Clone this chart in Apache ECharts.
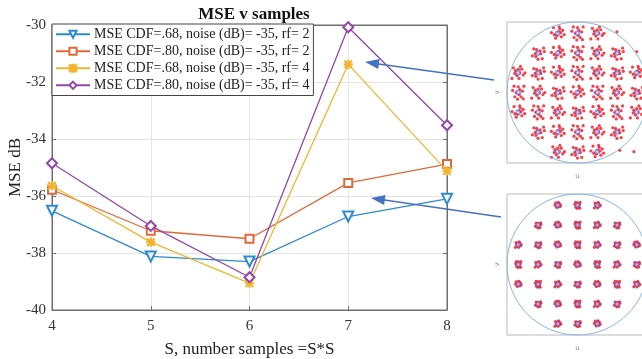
<!DOCTYPE html>
<html><head><meta charset="utf-8">
<script src="https://cdn.jsdelivr.net/npm/echarts@6/dist/echarts.min.js"></script>
<style>html,body{margin:0;padding:0;background:#fff}#c{width:642px;height:359px}</style>
</head><body><div id="c"></div><script>
// Number of samples per side S (S*S sample points)
const sValues = [4, 5, 6, 7, 8];

// MSE in dB for each configuration
const mseCdf68Rf2 = [-36.52, -38.12, -38.30, -36.72, -36.10];
const mseCdf80Rf2 = [-35.78, -37.22, -37.50, -35.54, -34.88];
const mseCdf68Rf4 = [-35.64, -37.62, -39.06, -31.38, -35.12];
const mseCdf80Rf4 = [-34.85, -37.05, -38.85, -30.08, -33.52];

const seriesNames = [
  'MSE CDF=.68, noise (dB)= -35, rf= 2',
  'MSE CDF=.80, noise (dB)= -35, rf= 2',
  'MSE CDF=.68, noise (dB)= -35, rf= 4',
  'MSE CDF=.80, noise (dB)= -35, rf= 4'
];
const seriesColors = ['#2D8BD0', '#E0683A', '#F1B532', '#9446A9'];

const yMin = -40, yMax = -30, yStep = 2;
const xMin = 4, xMax = 8, xStep = 1;

// Sample layout inside the unit disk: grid columns present in each row (top row first)
const layoutRows = [3, 2, 1, 0, -1, -2, -3];
const layoutCols = [
  [-1, 0, 1],
  [-2, -1, 0, 1, 2],
  [-3, -2, -1, 0, 1, 2, 3],
  [-3, -2, -1, 0, 1, 2, 3],
  [-3, -2, -1, 0, 1, 2, 3],
  [-2, -1, 0, 1, 2],
  [-1, 0, 1]
];
const gridPitch = 0.28;

// Estimated sample scatter around each grid node (unit offsets)
const scatterA = [[-0.6,0.8],[0.2,0.9],[0.7,0.4],[-0.9,0.1],[0.1,0.2],[0.5,-0.5],[-0.3,-0.7],[0.9,-0.2],[-0.5,-0.2],[0.3,0.6],[-0.1,-0.3],[0.4,0.1]];
const scatterB = [[0.8,0.7],[-0.2,0.5],[-0.8,-0.4],[0.4,-0.1],[0.0,-0.9],[-0.6,0.6],[0.6,-0.8],[-0.1,0.1],[0.9,0.2],[-0.4,-0.1],[0.3,0.3],[-0.3,-0.5]];
const scatterC = [[-0.9,-0.8],[-0.4,0.3],[0.3,0.9],[0.7,-0.3],[-0.2,-0.4],[0.5,0.5],[0.1,-0.8],[-0.7,0.7],[0.95,0.0],[0.2,0.0],[-0.5,-0.1],[0.0,0.5]];
const scatterD = [[0.0,0.8],[0.6,0.2],[-0.5,-0.6],[-0.8,0.3],[0.4,-0.6],[0.8,0.9],[-0.3,0.0],[0.2,0.4],[-0.1,-0.95],[0.7,-0.9],[-0.6,0.9],[0.1,-0.3]];
const scatterSets = [scatterA, scatterB, scatterC, scatterD];
const spreadRf4 = 0.1;    // wide clusters (upper map)
const spreadRf2 = 0.045;  // tight clusters (lower map)
// isolated stray samples in the upper map
const strayRf4 = [[0.56, 0.86], [0.84, 0.58], [0.60, -0.82], [0.80, -0.84]];

function gridNodes() {
  const out = [];
  layoutRows.forEach((r, i) => layoutCols[i].forEach(c => out.push([c * gridPitch, r * gridPitch])));
  return out;
}
function samplePoints(spread, extra) {
  const out = [];
  layoutRows.forEach((r, i) => layoutCols[i].forEach((c, j) => {
    const set = scatterSets[(i + j * 3) % scatterSets.length];
    set.forEach(o => out.push([c * gridPitch + o[0] * spread, r * gridPitch + o[1] * spread]));
  }));
  return out.concat(extra);
}

const serif = 'Liberation Serif';
const lineData = [mseCdf68Rf2, mseCdf80Rf2, mseCdf68Rf4, mseCdf80Rf4];
const symbols = ['emptyTriangle', 'emptyRect', 'path://M4.4,0H5.6V10H4.4Z M0,4.4H10V5.6H0Z M1.2,0.4L9.6,8.8L8.8,9.6L0.4,1.2Z M8.8,0.4L9.6,1.2L1.2,9.6L0.4,8.8Z', 'emptyDiamond'];
const symbolSizes = [10, 8, 8, 10];
const symbolRot = [180, 0, 0, 0];

const lineSeries = lineData.map((vals, k) => ({
  name: seriesNames[k],
  type: 'line',
  xAxisIndex: 0, yAxisIndex: 0,
  data: sValues.map((s, i) => [s, vals[i]]),
  symbol: symbols[k],
  symbolSize: symbolSizes[k],
  symbolRotate: symbolRot[k],
  showAllSymbol: true,
  color: seriesColors[k],
  lineStyle: { width: 1.3, color: seriesColors[k] },
  itemStyle: { color: seriesColors[k], borderColor: seriesColors[k], borderWidth: 1.2 },
  z: 3 + k
}));

function insetGrid(top) {
  return { left: 507, top: top, width: 141, height: 141, show: true, borderColor: '#b9b9b9', borderWidth: 1,
    backgroundColor: '#fff', outerBoundsMode: 'none', containLabel: false };
}
function insetAxis(gridIndex, name, isX) {
  return {
    type: 'value', gridIndex, min: -1, max: 1,
    name, nameLocation: 'middle', nameGap: isX ? 10 : 6, nameRotate: isX ? 0 : 90,
    nameTextStyle: { fontSize: 7, color: '#888', fontFamily: 'DejaVu Sans' },
    axisLine: { show: false }, axisTick: { show: false }, axisLabel: { show: false }, splitLine: { show: false }
  };
}

const insetSeries = [];
[[1, spreadRf4, strayRf4], [2, spreadRf2, []]].forEach(([g, spread, extra]) => {
  insetSeries.push({
    type: 'scatter', xAxisIndex: g + 1, yAxisIndex: g + 1,
    data: samplePoints(spread, extra), symbol: 'circle', symbolSize: 3.2,
    itemStyle: { color: '#F41E25', opacity: 0.85 }, silent: true, z: 2
  });
  insetSeries.push({
    type: 'scatter', xAxisIndex: g + 1, yAxisIndex: g + 1,
    data: gridNodes(), symbol: 'emptyCircle', symbolSize: 4,
    itemStyle: { color: '#6a5fd0', borderColor: '#6a5fd0', borderWidth: 0.8, opacity: 0.6 }, silent: true, z: 3
  });
});

const chart = echarts.init(document.getElementById('c'), null, { renderer: 'canvas' });
chart.setOption({
  animation: false,
  backgroundColor: '#fff',
  title: {
    text: 'MSE v samples', left: 249, top: 1, textAlign: 'center',
    textStyle: { fontFamily: serif, fontSize: 17, fontWeight: 'bold', color: '#111' }
  },
  legend: {
    data: seriesNames, orient: 'vertical', left: 52, top: 24,
    backgroundColor: '#fff', borderColor: '#444', borderWidth: 1,
    padding: [3, 4, 3, 3], itemGap: 2.5, itemWidth: 34, itemHeight: 9,
    textStyle: { fontFamily: serif, fontSize: 14, color: '#222', lineHeight: 14.5, padding: [0, 0, 0, -1] },
    z: 10
  },
  grid: [
    { left: 52, top: 25, right: 195, bottom: 49, show: true, borderColor: '#6e6e6e', borderWidth: 1,
      outerBoundsMode: 'none', containLabel: false },
    insetGrid(22),
    insetGrid(194)
  ],
  xAxis: [
    {
      type: 'value', gridIndex: 0, min: xMin, max: xMax, interval: xStep,
      name: 'S, number samples =S*S', nameLocation: 'middle', nameGap: 31, nameMoveOverlap: false,
      nameTextStyle: { fontFamily: serif, fontSize: 17, color: '#222' },
      axisLine: { lineStyle: { color: '#6e6e6e' } },
      axisTick: { inside: true, length: 4, lineStyle: { color: '#6e6e6e' } },
      axisLabel: { fontFamily: serif, fontSize: 15, color: '#333', margin: 9 },
      splitLine: { show: true, lineStyle: { color: '#e4e4e4', width: 1 } }
    },
    {
      type: 'value', gridIndex: 0, position: 'top', min: xMin, max: xMax, interval: xStep,
      axisLine: { lineStyle: { color: '#6e6e6e' } },
      axisTick: { inside: true, length: 4, lineStyle: { color: '#6e6e6e' } },
      axisLabel: { show: false }, splitLine: { show: false }
    },
    insetAxis(1, 'u', true),
    insetAxis(2, 'u', true)
  ],
  yAxis: [
    {
      type: 'value', gridIndex: 0, min: yMin, max: yMax, interval: yStep,
      name: 'MSE dB', nameLocation: 'middle', nameGap: 28, nameRotate: 90, nameMoveOverlap: false,
      nameTextStyle: { fontFamily: serif, fontSize: 17, color: '#222' },
      axisLine: { show: true, lineStyle: { color: '#6e6e6e' } },
      axisTick: { show: true, inside: true, length: 4, lineStyle: { color: '#6e6e6e' } },
      axisLabel: { fontFamily: serif, fontSize: 15, color: '#333', margin: 6 },
      splitLine: { show: true, lineStyle: { color: '#e4e4e4', width: 1 } }
    },
    {
      type: 'value', gridIndex: 0, position: 'right', min: yMin, max: yMax, interval: yStep,
      axisLine: { show: true, lineStyle: { color: '#6e6e6e' } },
      axisTick: { show: true, inside: true, length: 4, lineStyle: { color: '#6e6e6e' } },
      axisLabel: { show: false }, splitLine: { show: false }
    },
    insetAxis(1, 'v', false),
    insetAxis(2, 'v', false)
  ],
  series: lineSeries.concat(insetSeries)
});

// Unit-circle outlines and the arrows linking the curves to the sample maps
const graphics = [];
[[2, 2], [3, 3]].forEach(([xi, yi]) => {
  const c = chart.convertToPixel({ xAxisIndex: xi, yAxisIndex: yi }, [0, 0]);
  const e = chart.convertToPixel({ xAxisIndex: xi, yAxisIndex: yi }, [1, 0]);
  graphics.push({
    type: 'circle', shape: { cx: c[0], cy: c[1], r: e[0] - c[0] },
    style: { fill: null, stroke: '#86b6dc', lineWidth: 1 }, z: 5, silent: true
  });
});
function arrow(tail, tipData) {
  const tip = chart.convertToPixel({ xAxisIndex: 0, yAxisIndex: 0 }, tipData);
  const dx = tip[0] - tail[0], dy = tip[1] - tail[1];
  const len = Math.hypot(dx, dy), ux = dx / len, uy = dy / len;
  const headLen = 14, headHalf = 5;
  const bx = tip[0] - ux * headLen, by = tip[1] - uy * headLen;
  graphics.push({
    type: 'line', shape: { x1: tail[0], y1: tail[1], x2: bx + ux * 2, y2: by + uy * 2 },
    style: { stroke: '#4472C4', lineWidth: 1.6 }, z: 20, silent: true
  });
  graphics.push({
    type: 'polygon',
    shape: { points: [tip, [bx - uy * headHalf, by + ux * headHalf], [bx + uy * headHalf, by - ux * headHalf]] },
    style: { fill: '#4472C4' }, z: 20, silent: true
  });
}
arrow([494, 80], [7.17, -31.30]);
arrow([501, 217], [7.23, -36.07]);
chart.setOption({ graphic: graphics });
</script></body></html>
